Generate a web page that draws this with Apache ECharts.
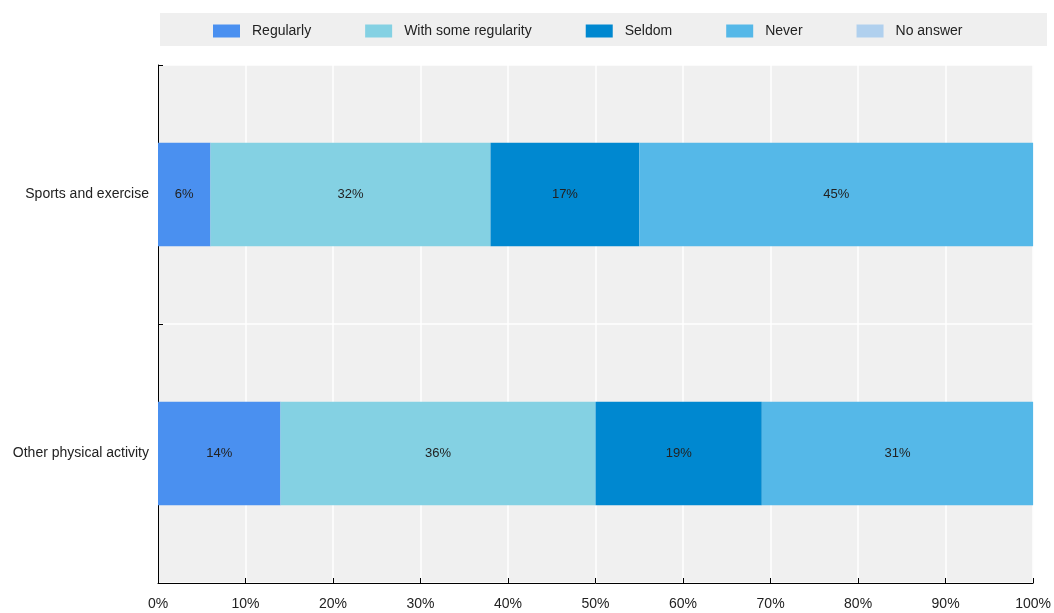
<!DOCTYPE html>
<html>
<head>
<meta charset="utf-8">
<script src="https://cdn.jsdelivr.net/npm/echarts@6/dist/echarts.min.js"></script>
<style>
  html, body { margin: 0; padding: 0; background: #fff; }
  #chart { width: 1054px; height: 613px; }
</style>
</head>
<body>
<div id="chart"></div>
<script>
// Activities, listed top to bottom
const categories = ['Sports and exercise', 'Other physical activity'];

// Share of respondents (%) per frequency answer
const regularly = [6, 14];
const someRegularity = [32, 36];
const seldom = [17, 19];
const never = [45, 31];
const noAnswer = [0, 0];

const seriesNames = ['Regularly', 'With some regularity', 'Seldom', 'Never', 'No answer'];
const seriesValues = [regularly, someRegularity, seldom, never, noAnswer];
const seriesColors = ['#4a90f0', '#84d1e3', '#0088d0', '#55b8e8', '#b0d0ee'];

const FONT = '"Liberation Sans", Arial, sans-serif';
const chart = echarts.init(document.getElementById('chart'), null, { renderer: 'canvas' });

chart.setOption({
  animation: false,
  textStyle: { fontFamily: FONT, color: '#222' },
  graphic: [{
    type: 'rect',
    shape: { x: 160, y: 13, width: 887, height: 33 },
    style: { fill: '#efefef' },
    silent: true,
    z: -1
  }],
  legend: {
    left: 213,
    top: 19,
    padding: [5, 0, 5, 0],
    itemWidth: 27,
    itemHeight: 13,
    itemGap: 54,
    icon: 'rect',
    textStyle: { fontFamily: FONT, fontSize: 14, color: '#222', padding: [0, 0, 0, 7] },
    data: seriesNames
  },
  grid: {
    left: 158,
    right: 19,
    top: 65,
    bottom: 30,
    show: true,
    backgroundColor: '#f0f0f0',
    borderWidth: 0
  },
  xAxis: {
    type: 'value',
    min: 0,
    max: 100,
    interval: 10,
    axisLine: { show: true, lineStyle: { color: '#000', width: 1 } },
    axisTick: { show: true, inside: true, length: 5, lineStyle: { color: '#000' } },
    axisLabel: { formatter: '{value}%', fontFamily: FONT, fontSize: 14, color: '#222', margin: 14 },
    splitLine: { show: true, lineStyle: { color: '#fff', width: 1.5 } }
  },
  yAxis: {
    type: 'category',
    inverse: true,
    data: categories,
    axisLine: { show: true, lineStyle: { color: '#000', width: 1 } },
    axisTick: { show: true, inside: true, length: 5, lineStyle: { color: '#000' } },
    axisLabel: { fontFamily: FONT, fontSize: 14, color: '#222', margin: 9 },
    splitLine: { show: true, lineStyle: { color: '#fff', width: 1.5 } }
  },
  series: seriesNames.map((name, i) => ({
    name,
    type: 'bar',
    stack: 'total',
    barWidth: '40%',
    data: seriesValues[i],
    itemStyle: { color: seriesColors[i] },
    label: {
      show: true,
      position: 'inside',
      fontFamily: FONT,
      fontSize: 13,
      color: '#222',
      formatter: p => (p.value > 0 ? p.value + '%' : '')
    }
  }))
});
</script>
</body>
</html>
